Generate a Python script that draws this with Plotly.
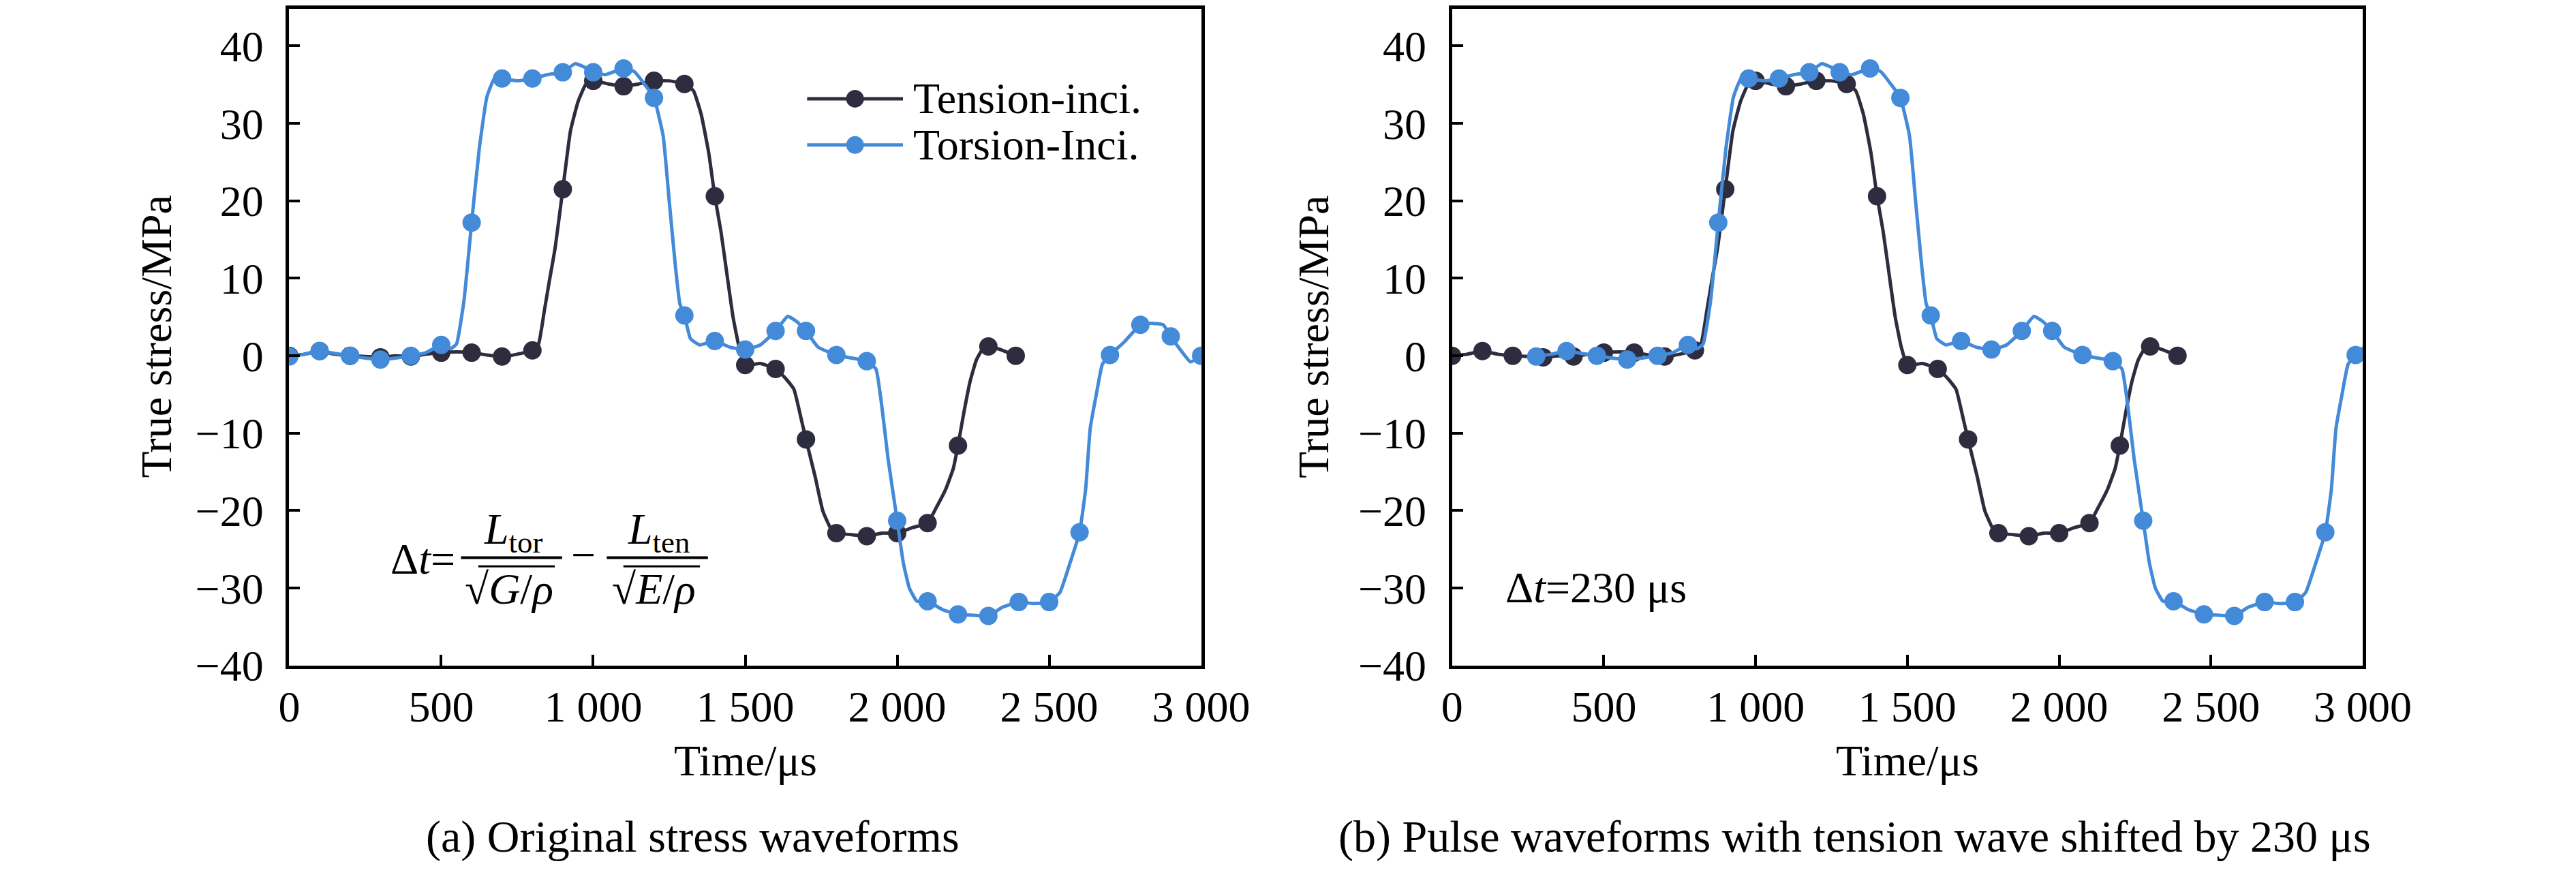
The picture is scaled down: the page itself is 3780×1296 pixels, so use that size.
import plotly.graph_objects as go

# ---- data (time in us, stress in MPa) ----
tension_time = [0, 50, 100, 150, 200, 250, 300, 350, 400, 450, 500, 550, 600, 650, 700, 750,
                800, 820, 840, 855, 875, 900, 925, 950, 975, 1000, 1050, 1100, 1150, 1200,
                1250, 1300, 1330, 1355, 1380, 1400, 1420, 1440, 1460, 1480, 1500, 1550, 1600,
                1630, 1660, 1685, 1700, 1730, 1755, 1780, 1800, 1850, 1900, 1950, 2000, 2050,
                2100, 2130, 2160, 2185, 2200, 2220, 2240, 2260, 2280, 2300, 2340, 2390]
tension_stress = [0.0, 0.2, 0.6, 0.2, 0.0, -0.1, -0.2, 0.0, -0.1, 0.2, 0.4, 0.5, 0.4, 0.1, -0.1, 0.2,
                  0.7, 1.5, 6.0, 9.5, 14.0, 21.5, 29.0, 32.8, 35.0, 35.5, 35.1, 34.8, 35.1, 35.5,
                  35.5, 35.1, 34.2, 31.2, 26.2, 20.6, 16.1, 10.5, 5.0, 1.1, -1.2, -1.0, -1.7,
                  -2.8, -4.3, -8.3, -10.8, -15.6, -20.0, -22.2, -22.9, -23.1, -23.3, -22.9, -22.9, -22.2,
                  -21.6, -19.5, -17.2, -14.5, -11.6, -7.2, -3.3, -0.6, 0.8, 1.2, 0.8, 0.0]
tension_marker_time = [0, 100, 200, 300, 400, 500, 600, 700, 800, 900, 1000, 1100, 1200, 1300,
                       1400, 1500, 1600, 1700, 1800, 1900, 2000, 2100, 2200, 2300, 2390]

torsion_time = [0, 50, 100, 150, 200, 250, 300, 350, 400, 450, 500, 530, 550, 575, 600, 625, 650,
                675, 700, 750, 800, 850, 900, 940, 970, 1000, 1040, 1100, 1135, 1170, 1200, 1230,
                1250, 1270, 1285, 1300, 1320, 1350, 1400, 1450, 1500, 1550, 1600, 1640, 1670, 1700,
                1740, 1800, 1850, 1900, 1930, 1950, 1970, 2000, 2020, 2040, 2065, 2100, 2150, 2200,
                2250, 2300, 2345, 2400, 2450, 2500, 2535, 2565, 2600, 2620, 2635, 2655, 2675, 2700,
                2745, 2800, 2835, 2875, 2900, 2935, 2965, 3000]
torsion_stress = [-0.1, 0.2, 0.6, 0.3, 0.0, -0.3, -0.5, -0.3, 0.0, 0.4, 1.4, 0.9, 1.5, 7.2, 17.2, 26.7, 33.4,
                  35.8, 35.8, 35.5, 35.8, 36.3, 36.6, 37.7, 37.3, 36.6, 36.3, 37.1, 36.7, 35.0, 33.3, 28.4,
                  20.0, 11.7, 6.7, 5.2, 2.2, 1.4, 1.9, 1.1, 0.8, 1.4, 3.2, 5.1, 4.4, 3.2,
                  1.1, 0.1, -0.3, -0.7, -1.7, -6.7, -13.3, -21.3, -26.7, -30.0, -31.7, -31.7, -32.8, -33.4,
                  -33.5, -33.6, -32.5, -31.8, -32.0, -31.8, -30.6, -27.2, -22.8, -17.2, -9.4, -5.0, -1.1, 0.1,
                  1.7, 4.0, 4.2, 4.0, 2.5, 0.6, -0.8, 0.0]
torsion_marker_time = [0, 100, 200, 300, 400, 500, 600, 700, 800, 900, 1000, 1100, 1200, 1300, 1400,
                       1500, 1600, 1700, 1800, 1900, 2000, 2100, 2200, 2300, 2400, 2500, 2600, 2700,
                       2800, 2900, 3000]

# shift of the torsion record in panel (b), as measured on the figure
torsion_shift = 277

x_ticks = [0, 500, 1000, 1500, 2000, 2500, 3000]
x_tick_text = ['0', '500', '1 000', '1 500', '2 000', '2 500', '3 000']
y_ticks = [-40, -30, -20, -10, 0, 10, 20, 30, 40]

DARK = '#2e2d3f'
BLUE = '#438ad9'
FONT = 'Liberation Serif'
W, H = 3780, 1296


def px(x):
    return x / W


def py(y):
    return 1 - y / H


def markers_of(times, values, wanted):
    lookup = dict(zip(times, values))
    return wanted, [lookup[t] for t in wanted]


fig = go.Figure()

panels = [('x', 'y', 0), ('x2', 'y2', torsion_shift)]
for xa, ya, shift in panels:
    tm_t, tm_s = markers_of(tension_time, tension_stress, tension_marker_time)
    fig.add_trace(go.Scatter(x=tension_time, y=tension_stress, xaxis=xa, yaxis=ya, mode='lines',
                             line=dict(color=DARK, width=5, shape='spline', smoothing=0.4),
                             showlegend=False, hoverinfo='skip'))
    fig.add_trace(go.Scatter(x=tm_t, y=tm_s, xaxis=xa, yaxis=ya, mode='markers',
                             marker=dict(color=DARK, size=27), showlegend=False))
    qm_t, qm_s = markers_of(torsion_time, torsion_stress, torsion_marker_time)
    fig.add_trace(go.Scatter(x=[t + shift for t in torsion_time], y=torsion_stress, xaxis=xa, yaxis=ya,
                             mode='lines',
                             line=dict(color=BLUE, width=5, shape='spline', smoothing=0.4),
                             showlegend=False, hoverinfo='skip'))
    fig.add_trace(go.Scatter(x=[t + shift for t in qm_t], y=qm_s, xaxis=xa, yaxis=ya, mode='markers',
                             marker=dict(color=BLUE, size=27), showlegend=False))

axis_common = dict(showgrid=False, zeroline=False, showline=True, linecolor='black', linewidth=5,
                   mirror=True, ticks='inside', ticklen=16, tickwidth=4, tickcolor='black',
                   tickfont=dict(family=FONT, size=64, color='black'))

fig.update_layout(
    width=W, height=H,
    margin=dict(l=0, r=0, t=0, b=0),
    paper_bgcolor='white', plot_bgcolor='white',
    font=dict(family=FONT, size=64, color='black'),
    showlegend=False,
    xaxis=dict(domain=[px(410), px(1780)], range=[0, 3000], tickvals=x_ticks, ticktext=x_tick_text,
               anchor='y', ticklabelstandoff=0, **axis_common),
    yaxis=dict(domain=[py(996), py(3)], range=[-40, 44.8], tickvals=y_ticks, anchor='x',
               ticklabelstandoff=20, **axis_common),
    xaxis2=dict(domain=[px(2157), px(3525)], range=[0, 3000], tickvals=x_ticks, ticktext=x_tick_text,
                anchor='y2', ticklabelstandoff=0, **axis_common),
    yaxis2=dict(domain=[py(996), py(3)], range=[-40, 44.8], tickvals=y_ticks, anchor='x2',
                ticklabelstandoff=20, **axis_common),
)

ann = []
shapes = []


def text(x, y, s, xanchor='center', size=64, angle=0):
    ann.append(dict(x=px(x), y=py(y), xref='paper', yref='paper', text=s, showarrow=False,
                    xanchor=xanchor, yanchor='middle', textangle=angle,
                    font=dict(family=FONT, size=size, color='black')))


def hline(x0, x1, y, color='black', width=4):
    shapes.append(dict(type='line', xref='paper', yref='paper', x0=px(x0), x1=px(x1),
                       y0=py(y), y1=py(y), line=dict(color=color, width=width)))


# axis titles and captions
text(210, 499, 'True stress/MPa', angle=-90)
text(1949, 499, 'True stress/MPa', angle=-90)
text(1095, 1140, 'Time/μs')
text(2841, 1140, 'Time/μs')
text(1016, 1255, '(a) Original stress waveforms', size=66)
text(2762, 1255, '(b) Pulse waveforms with tension wave shifted by 230 μs', size=66)

# legend (panel a)
for row_y, color, label in [(139, DARK, 'Tension-inci.'), (209, BLUE, 'Torsion-Inci.')]:
    hline(1188, 1332, row_y, color=color, width=5)
    shapes.append(dict(type='circle', xref='paper', yref='paper', xsizemode='pixel', ysizemode='pixel',
                       xanchor=px(1260), yanchor=py(row_y), x0=-13, x1=13, y0=-13, y1=13,
                       fillcolor=color, line=dict(width=0)))
    text(1345, row_y, label, xanchor='left')

# formula in panel (a)
text(611, 835, 'Δ<i>t</i>=')
hline(668, 820, 833)
text(746, 794, '<i>L</i><sub>tor</sub>')
text(740, 880, '√<i>G</i>/<i>ρ</i>')
hline(694, 809, 846, width=3)
text(852, 829, '−')
hline(887, 1039, 833)
text(965, 794, '<i>L</i><sub>ten</sub>')
text(958, 880, '√<i>E</i>/<i>ρ</i>')
hline(912, 1027, 846, width=3)

# panel (b) note
text(2235, 878, 'Δ<i>t</i>=230 μs', xanchor='left')

fig.update_layout(annotations=ann, shapes=shapes)

fig.write_html('out.html')
